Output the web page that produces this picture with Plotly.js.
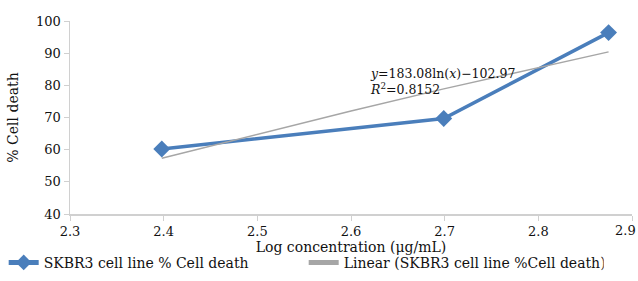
<!DOCTYPE html>
<html><head><meta charset="utf-8">
<script src="https://cdn.plot.ly/plotly-3.0.1.min.js"></script>
<style>body{margin:0;padding:0;background:#fff}#chart{width:638px;height:281px}</style>
</head><body><div id="chart"></div>
<script>
var logConc = [2.398, 2.699, 2.875];
var cellDeath = [60.2, 69.7, 96.4];
var trendX = [2.398, 2.5, 2.6, 2.699, 2.8, 2.875];
var trendY = [57.3, 64.8, 72.0, 78.9, 85.5, 90.4];
var xTicks = [2.3, 2.4, 2.5, 2.6, 2.7, 2.8, 2.9];
var xTickText = ['2.3', '2.4', '2.5', '2.6', '2.7', '2.8', ''];
var lastTickLabel = '2.9';
var yTicks = [40, 50, 60, 70, 80, 90, 100];

var font = 'DejaVu Serif';
var traces = [
  {x: logConc, y: cellDeath, mode: 'lines+markers', name: 'SKBR3 cell line % Cell death',
   line: {color: '#4a7ebb', width: 3.5}, marker: {symbol: 'diamond', size: 13, color: '#4a7ebb'}},
  {x: trendX, y: trendY, mode: 'lines', name: 'Linear (SKBR3 cell line %Cell death)',
   line: {color: '#a6a6a6', width: 1.5}}
];
var layout = {
  width: 638, height: 281,
  margin: {l: 70, r: 6, t: 21, b: 67, autoexpand: false},
  paper_bgcolor: '#fff', plot_bgcolor: '#fff',
  font: {family: font, size: 13, color: '#111'},
  showlegend: true,
  legend: {orientation: 'h', x: -0.118, xanchor: 'left', y: -0.17, yanchor: 'top',
    font: {family: font, size: 14, color: '#111'}, entrywidth: 255, entrywidthmode: 'pixels',
    traceorder: 'normal', tracegroupgap: 0, itemsizing: 'constant'},
  xaxis: {range: [2.3, 2.9], tickvals: xTicks, ticktext: xTickText,
    tickfont: {family: font, size: 13, color: '#111'},
    showgrid: false, zeroline: false, showline: true, linecolor: '#d0d0d0', linewidth: 1.5,
    ticks: 'outside', ticklen: 5, tickcolor: '#d0d0d0',
    title: {text: 'Log concentration (μg/mL)', font: {family: font, size: 14}, standoff: 0}},
  yaxis: {range: [40, 100], tickvals: yTicks, showgrid: false, zeroline: false, showline: true,
    tickfont: {family: font, size: 13, color: '#111'},
    linecolor: '#d0d0d0', linewidth: 1.5, ticks: 'outside', ticklen: 5, tickcolor: '#d0d0d0',
    title: {text: '% Cell death', font: {family: font, size: 14}, standoff: 14}},
  annotations: [
    {x: 2.618, y: 81.3, xref: 'x', yref: 'y', xanchor: 'left', yanchor: 'middle', showarrow: false, align: 'left',
     text: '<i>y</i>=183.08ln(<i>x</i>)−102.97<br><i>R</i><sup>2</sup>=0.8152', font: {family: font, size: 12.5, color: '#111'}},
    {x: 1.0105, y: -0.088, xref: 'paper', yref: 'paper', xanchor: 'right', yanchor: 'middle', showarrow: false,
     text: lastTickLabel, font: {family: font, size: 13, color: '#111'}}
  ]
};
Plotly.newPlot('chart', traces, layout, {displayModeBar: false, staticPlot: true});
</script></body></html>
